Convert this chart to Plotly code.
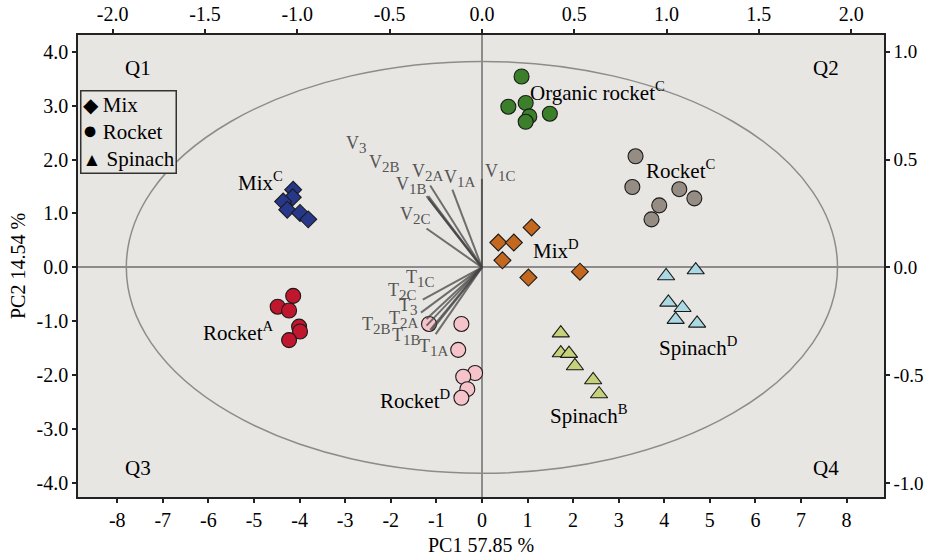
import plotly.graph_objects as go

# ---------------- data ----------------
groups = ["Mix C", "Rocket A", "Organic rocket C", "Rocket C", "Mix D", "Spinach D", "Spinach B", "Rocket D"]

mixC_x = [-4.14, -4.15, -4.36, -4.27, -3.99, -3.81]
mixC_y = [1.44, 1.30, 1.22, 1.07, 1.01, 0.89]
rocketA_x = [-4.14, -4.48, -4.23, -4.01, -3.99, -4.23]
rocketA_y = [-0.53, -0.73, -0.80, -1.10, -1.19, -1.35]
organic_x = [0.87, 0.58, 0.96, 1.04, 0.96, 1.49]
organic_y = [3.54, 2.98, 3.05, 2.80, 2.70, 2.85]
rocketC_x = [3.37, 3.30, 4.33, 4.66, 3.89, 3.72]
rocketC_y = [2.06, 1.49, 1.45, 1.28, 1.15, 0.89]
mixD_x = [1.09, 0.36, 0.70, 0.45, 1.02, 2.15]
mixD_y = [0.74, 0.46, 0.46, 0.13, -0.19, -0.08]
spinachD_x = [4.04, 4.69, 4.09, 4.40, 4.25, 4.72]
spinachD_y = [-0.16, -0.05, -0.65, -0.75, -0.97, -1.04]
spinachB_x = [1.73, 1.73, 1.91, 2.04, 2.44, 2.57]
spinachB_y = [-1.22, -1.59, -1.60, -1.83, -2.09, -2.35]
rocketD_x = [-1.16, -0.45, -0.52, -0.15, -0.41, -0.32, -0.45]
rocketD_y = [-1.05, -1.05, -1.53, -1.96, -2.03, -2.26, -2.42]

# loadings (top / right axes)
load_names = ["V3", "V2B", "V1B", "V2A", "V1A", "V1C", "V2C",
              "T1C", "T2C", "T3", "T2A", "T2B", "T1B", "T1A"]
load_x = [-0.30, -0.29, -0.29, -0.28, -0.16, 0.00, -0.30,
          -0.32, -0.33, -0.30, -0.30, -0.28, -0.27, -0.25]
load_y = [0.33, 0.32, 0.33, 0.38, 0.36, 0.41, 0.18,
          -0.15, -0.21, -0.24, -0.27, -0.29, -0.29, -0.31]

# tick labels
bottom_ticks = list(range(-8, 9))
bottom_text = [str(v) for v in bottom_ticks]
left_ticks = [4, 3, 2, 1, 0, -1, -2, -3, -4]
left_text = ["4.0", "3.0", "2.0", "1.0", "0.0", "-1.0", "-2.0", "-3.0", "-4.0"]
top_ticks = [-2.0, -1.5, -1.0, -0.5, 0.0, 0.5, 1.0, 1.5, 2.0]
top_text = ["-2.0", "-1.5", "-1.0", "-0.5", "0.0", "0.5", "1.0", "1.5", "2.0"]
right_ticks = [1.0, 0.5, 0.0, -0.5, -1.0]
right_text = ["1.0", "0.5", "0.0", "-0.5", "-1.0"]

# ---------------- styling ----------------
FONT = "Liberation Serif, Times New Roman, serif"
X_RANGE = [-8.86, 8.82]
Y_RANGE = [-4.26, 4.31]
XF, YF = 4.05, 4.0

fig = go.Figure()

def add_group(xs, ys, symbol, color, size):
    fig.add_trace(go.Scatter(
        x=xs, y=ys, mode="markers", showlegend=False, hoverinfo="skip",
        marker=dict(symbol=symbol, color=color, size=size,
                    line=dict(color="#1a1a1a", width=1.1))))

# loadings vectors
for name, lx, ly in zip(load_names, load_x, load_y):
    fig.add_trace(go.Scatter(
        x=[0, lx], y=[0, ly], mode="lines", xaxis="x2", yaxis="y2",
        showlegend=False, hoverinfo="skip",
        line=dict(color="rgba(70,70,70,0.75)", width=2)))

add_group(mixC_x, mixC_y, "diamond", "#27388a", 13)
add_group(rocketA_x, rocketA_y, "circle", "#c0162e", 15)
add_group(organic_x, organic_y, "circle", "#3b7f2b", 15)
add_group(rocketC_x, rocketC_y, "circle", "#958c83", 15)
add_group(mixD_x, mixD_y, "diamond", "#c4671f", 13)
add_group(spinachD_x, spinachD_y, "triangle-up", "#aad8e3", 15)
add_group(spinachB_x, spinachB_y, "triangle-up", "#c4d37a", 15)
add_group(rocketD_x, rocketD_y, "circle", "#f6c3ca", 15)

annotations = []

# loading labels (positions in loading units)
load_label_pos = {
    "V3": (-0.68, 0.57), "V2B": (-0.53, 0.48), "V2A": (-0.29, 0.44),
    "V1A": (-0.12, 0.41), "V1C": (0.10, 0.44), "V1B": (-0.38, 0.38),
    "V2C": (-0.36, 0.24), "T1C": (-0.33, -0.05), "T2C": (-0.43, -0.11),
    "T3": (-0.40, -0.18), "T2A": (-0.42, -0.24), "T2B": (-0.57, -0.27),
    "T1B": (-0.41, -0.32), "T1A": (-0.26, -0.37),
}
for name in load_names:
    px, py = load_label_pos[name]
    annotations.append(dict(
        x=px, y=py, xref="x2", yref="y2", showarrow=False,
        text=f"{name[0]}<sub><span style='font-size:15px'>{name[1:]}</span></sub>",
        font=dict(family=FONT, size=18, color="#555555")))

# group labels
group_labels = [
    ("Organic rocket<sup>C</sup>", 2.54, 3.27),
    ("Rocket<sup>C</sup>", 4.36, 1.82),
    ("Mix<sup>D</sup>", 1.62, 0.33),
    ("Mix<sup>C</sup>", -4.85, 1.60),
    ("Rocket<sup>A</sup>", -5.35, -1.19),
    ("Spinach<sup>D</sup>", 4.76, -1.46),
    ("Spinach<sup>B</sup>", 2.35, -2.73),
    ("Rocket<sup>D</sup>", -1.47, -2.45),
]
for txt, gx, gy in group_labels:
    annotations.append(dict(x=gx, y=gy, xref="x", yref="y", showarrow=False,
                            text=txt, font=dict(family=FONT, size=21, color="black")))

# quadrant labels
for txt, qx, qy in [("Q1", -7.54, 3.70), ("Q2", 7.55, 3.70),
                    ("Q3", -7.54, -3.72), ("Q4", 7.55, -3.72)]:
    annotations.append(dict(x=qx, y=qy, xref="x", yref="y", showarrow=False,
                            text=txt, font=dict(family=FONT, size=21, color="black")))

# legend box
def sym(ch, sz):
    return f"<span style='font-size:{sz}px'>{ch}</span> "

annotations.append(dict(
    x=0.003, y=0.881, xref="paper", yref="paper", xanchor="left", yanchor="top",
    showarrow=False, align="left",
    text=(sym("\u25C6", 20) + "Mix<br>" + sym("\u25CF", 25) + "Rocket<br>"
          + sym("\u25B2", 19) + "Spinach"),
    font=dict(family=FONT, size=21, color="black"),
    bordercolor="#333333", borderwidth=1.5, borderpad=1, bgcolor="#e8e6e3"))

axis_font = dict(family=FONT, size=20, color="black")
common = dict(showline=True, linecolor="#222222", linewidth=1.5, ticks="outside",
              ticklen=4, tickcolor="#222222", tickwidth=1.5, showgrid=False,
              tickfont=axis_font, automargin=False)

fig.update_layout(
    width=931, height=558,
    margin=dict(l=78, r=47, t=35, b=61),
    paper_bgcolor="white", plot_bgcolor="#e8e6e3",
    showlegend=False,
    font=dict(family=FONT, color="black"),
    shapes=[dict(type="circle", xref="x", yref="y", x0=-7.80, x1=7.80, y0=-3.82, y1=3.82,
                 line=dict(color="#8c8c8c", width=1.5), layer="below")],
    xaxis=dict(range=X_RANGE, tickvals=bottom_ticks, ticktext=bottom_text,
               zeroline=True, zerolinecolor="#8c8c8c", zerolinewidth=1.5,
               title=dict(text="PC1 57.85 %", font=axis_font, standoff=8), **common),
    yaxis=dict(range=Y_RANGE, tickvals=left_ticks, ticktext=left_text,
               zeroline=True, zerolinecolor="#8c8c8c", zerolinewidth=1.5,
               title=dict(text="PC2 14.54 %", font=axis_font, standoff=6), **common),
    xaxis2=dict(range=[X_RANGE[0] / XF, X_RANGE[1] / XF], overlaying="x", side="top",
                anchor="y", tickvals=top_ticks, ticktext=top_text, zeroline=False, **common),
    yaxis2=dict(range=[Y_RANGE[0] / YF, Y_RANGE[1] / YF], overlaying="y", side="right",
                anchor="x", tickvals=right_ticks, ticktext=right_text, zeroline=False,
                **{**common, "tickfont": dict(family=FONT, size=19, color="black")}),
    annotations=annotations,
)

fig.write_html("out.html", config={"displayModeBar": False},
               post_script="document.body.style.margin='0';")
